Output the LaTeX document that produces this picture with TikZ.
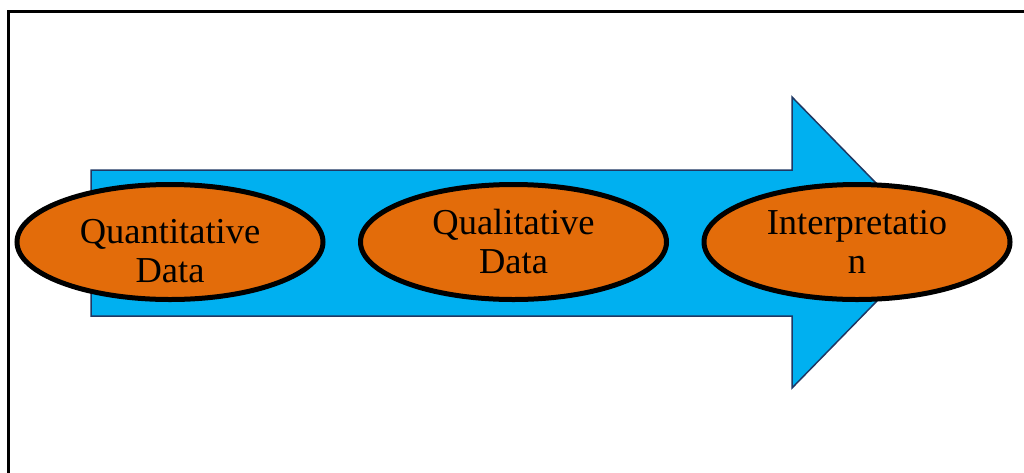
\documentclass[tikz,border=0pt]{standalone}
\usepackage{fontspec}
\setmainfont{Liberation Serif}
\usetikzlibrary{fit, arrows, positioning, shapes.geometric}

\definecolor{arrowblue}{RGB}{0,176,240}
\definecolor{arrowline}{RGB}{31,56,100}
\definecolor{stageorange}{RGB}{227,108,10}

\begin{document}
\begin{tikzpicture}[x = 1pt, y = -1pt, % pixel like units
                node distance = 343.5pt, % distance between stages
                line join = miter
            ]

            \tikzstyle{stage}=[draw = black, ellipse, line width = 5pt,
            fill = stageorange, minimum width = 306pt, minimum height = 115pt]
            \tikzstyle{lbl}=[align = center, inner sep = 0pt,
            font = \fontsize{36.5}{39}\selectfont]

            \clip (0,0) rectangle (1024,472);

            % frame
            \draw[line width = 3pt] (8,480) -- (8,11) -- (1040,11);

            % big arrow
            \draw[fill = arrowblue, draw = arrowline, line width = 1.5pt]
            (91,170) -- (792,170) -- (792,97) -- (934,242.5) -- (792,388)
            -- (792,316) -- (91,316) -- cycle;

            \node[stage] (quant) at (170,242) {}; \node[stage] (qual)
            [right of=quant] {}; \node[stage] (interp) [right of=qual] {};

            \node[lbl] (quanttext) at ([yshift=-9pt]quant.center)
            {Quantitative\\Data}; \node[lbl] (qualtext) at
            ([yshift=0pt]qual.center) {Qualitative\\Data}; \node[lbl]
            (interptext) at ([yshift=0pt]interp.center) {Interpretatio\\n};
\end{tikzpicture}
\end{document}
